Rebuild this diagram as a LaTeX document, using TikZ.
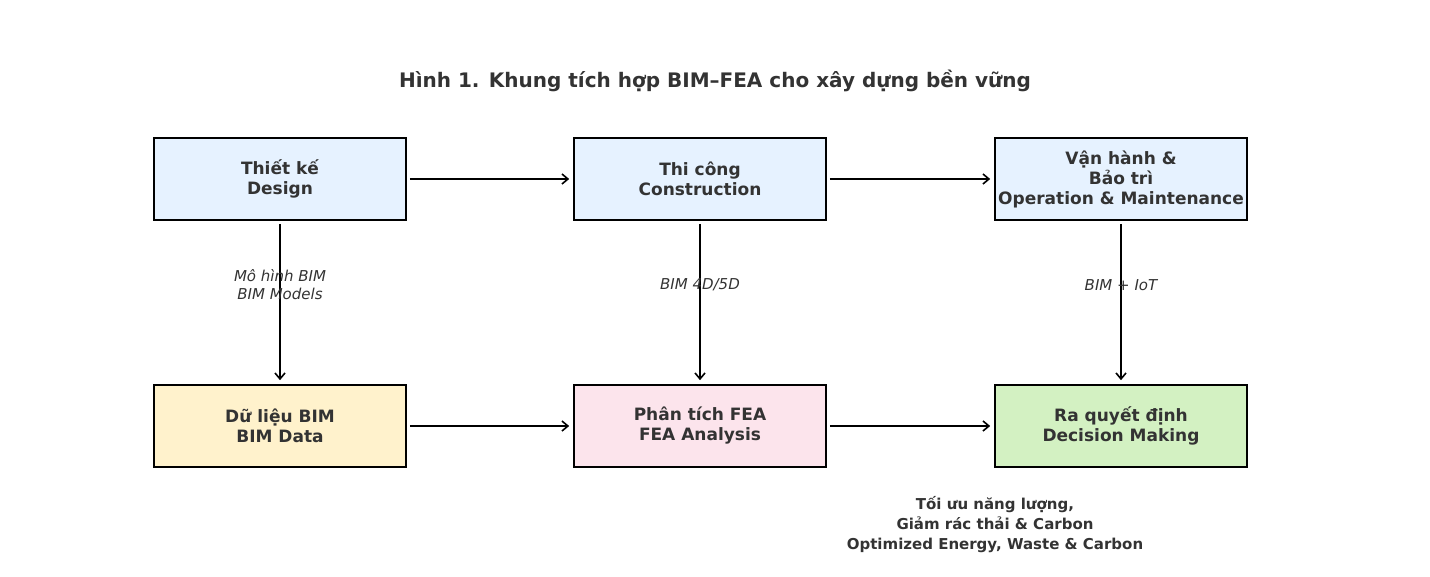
\documentclass[tikz,border=0pt]{standalone}
\usepackage{fontspec}
\setmainfont{DejaVu Sans}
\usetikzlibrary{arrows.meta}
\definecolor{tx}{HTML}{333333}
\definecolor{cblue}{HTML}{E6F2FF}
\definecolor{cyel}{HTML}{FFF2CC}
\definecolor{cpink}{HTML}{FCE4EC}
\definecolor{cgreen}{HTML}{D3F1C2}
\begin{document}
\begin{tikzpicture}[x=1pt,y=-1pt,
 box/.style={draw=black,line width=1.6pt,minimum width=252pt,minimum height=82pt,inner sep=0pt,align=center,text=tx,font=\fontsize{17}{20}\selectfont\bfseries},
 arr/.style={-{Straight Barb[length=6pt,width=10pt]},line width=1.6pt},
 lab/.style={text=tx,align=center,font=\fontsize{15}{18}\selectfont\itshape}]
\useasboundingbox (0,0) rectangle (1430,576);
\node[text=tx,font=\fontsize{20}{24}\selectfont\bfseries] (title) at (715,81) {Hình 1. Khung tích hợp BIM–FEA cho xây dựng bền vững};
\node[box,fill=cblue] (d) at (280,179) {Thiết kế\\Design};
\node[box,fill=cblue] (c) at (700,179) {Thi công\\Construction};
\node[box,fill=cblue] (o) at (1121,179) {Vận hành \&\\Bảo trì\\Operation \& Maintenance};
\node[box,fill=cyel] (b) at (280,426) {Dữ liệu BIM\\BIM Data};
\node[box,fill=cpink] (f) at (700,426) {Phân tích FEA\\FEA Analysis};
\node[box,fill=cgreen] (r) at (1121,426) {Ra quyết định\\Decision Making};
\draw[arr] (d.east)++(3,0) -- ([xshift=-4pt]c.west);
\draw[arr] (c.east)++(3,0) -- ([xshift=-4pt]o.west);
\draw[arr] (b.east)++(3,0) -- ([xshift=-4pt]f.west);
\draw[arr] (f.east)++(3,0) -- ([xshift=-4pt]r.west);
\draw[arr] (d.south)++(0,3) -- ([yshift=4pt]b.north);
\draw[arr] (c.south)++(0,3) -- ([yshift=4pt]f.north);
\draw[arr] (o.south)++(0,3) -- ([yshift=4pt]r.north);
\node[lab] (l1) at (280,285) {Mô hình BIM\\BIM Models};
\node[lab] (l2) at (700,285) {BIM 4D/5D};
\node[lab] (l3) at (1121,285) {BIM + IoT};
\node[text=tx,align=center,font=\fontsize{15}{20}\selectfont\bfseries] (out) at (995,525) {Tối ưu năng lượng,\\Giảm rác thải \& Carbon\\Optimized Energy, Waste \& Carbon};
\end{tikzpicture}
\end{document}
